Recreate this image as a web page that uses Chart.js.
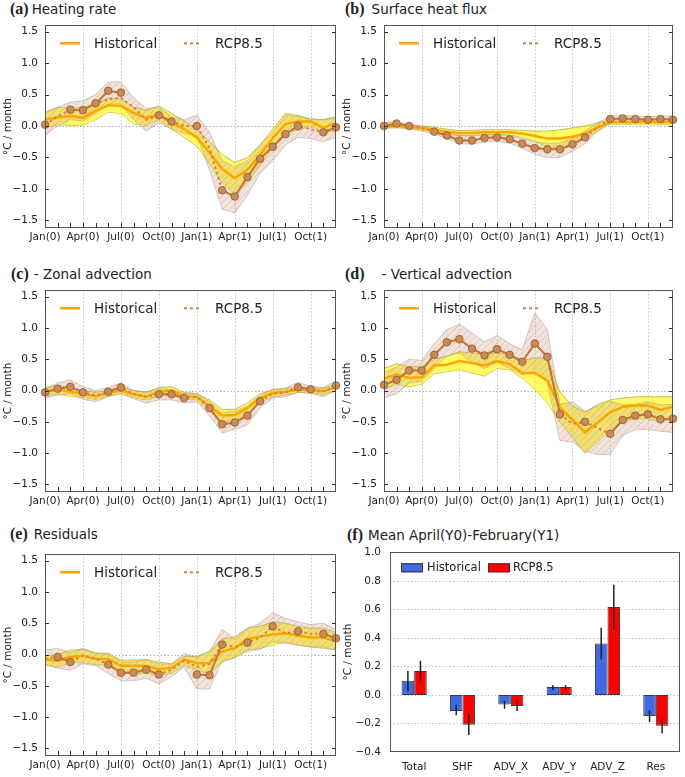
<!DOCTYPE html>
<html>
<head>
<meta charset="utf-8">
<script src="https://cdn.jsdelivr.net/npm/chart.js@4"></script>
<style>
body{margin:0;background:#fff;width:685px;height:777px;position:relative;overflow:hidden;font-family:"DejaVu Sans",sans-serif;color:#222}
canvas{position:absolute}
.tl{position:absolute;font-size:13.5px;line-height:1;white-space:nowrap}
.tl b{font-family:"Liberation Serif",serif;font-size:16px}
</style>
</head>
<body>
<div class="tl" style="left:10px;top:1px"><b>(a)</b><span style="margin-left:3px">Heating rate</span></div>
<div class="tl" style="left:345px;top:1px"><b>(b)</b><span style="margin-left:7px">Surface heat flux</span></div>
<div class="tl" style="left:11px;top:266px"><b>(c)</b><span style="margin-left:5px">- Zonal advection</span></div>
<div class="tl" style="left:345px;top:266px"><b>(d)</b><span style="margin-left:17px">- Vertical advection</span></div>
<div class="tl" style="left:10px;top:526px"><b>(e)</b><span style="margin-left:6px">Residuals</span></div>
<div class="tl" style="left:347px;top:527px"><b>(f)</b><span style="margin-left:5px">Mean April(Y0)-February(Y1)</span></div>

<canvas id="cA"></canvas>
<canvas id="cB"></canvas>
<canvas id="cC"></canvas>
<canvas id="cD"></canvas>
<canvas id="cE"></canvas>
<canvas id="cF"></canvas>

<script>
// --- DATI: mesi e tick ---
const months = ['Jan(0)','Feb(0)','Mar(0)','Apr(0)','May(0)','Jun(0)','Jul(0)','Aug(0)','Sep(0)','Oct(0)','Nov(0)','Dec(0)',
                'Jan(1)','Feb(1)','Mar(1)','Apr(1)','May(1)','Jun(1)','Jul(1)','Aug(1)','Sep(1)','Oct(1)','Nov(1)','Dec(1)'];
const yTicks = [-1.5, -1.0, -0.5, 0.0, 0.5, 1.0, 1.5];

// (a) Heating rate
const heatHist   = [0.10,0.14,0.16,0.13,0.24,0.33,0.32,0.21,0.13,0.18,0.05,-0.05,-0.18,-0.42,-0.68,-0.83,-0.69,-0.46,-0.19,0.03,0.07,0.07,-0.03,0.05];
const heatHistHi = [0.22,0.30,0.28,0.30,0.35,0.45,0.43,0.30,0.25,0.32,0.20,0.08,-0.05,-0.25,-0.45,-0.58,-0.50,-0.30,-0.05,0.20,0.17,0.10,0.10,0.15];
const heatHistLo = [-0.03,0.02,0.01,0.01,0.10,0.22,0.20,0.03,0.01,0.10,-0.05,-0.18,-0.32,-0.60,-0.90,-1.08,-0.90,-0.62,-0.35,-0.08,-0.07,0.00,-0.10,-0.08];
const heatRcp    = [0.02,0.15,0.26,0.25,0.36,0.42,0.45,0.30,0.10,0.17,0.07,0.00,0.00,-0.35,-1.02,-1.12,-0.81,-0.52,-0.33,-0.13,0.00,-0.05,-0.10,-0.02];
const heatRcpHi  = [0.20,0.30,0.38,0.40,0.50,0.70,0.70,0.45,0.28,0.30,0.15,0.10,0.17,-0.10,-0.55,-0.65,-0.55,-0.30,-0.10,0.17,0.15,0.12,0.10,0.12];
const heatRcpLo  = [-0.15,0.00,0.10,0.08,0.20,0.35,0.35,0.10,-0.08,0.05,-0.05,-0.12,-0.15,-0.70,-1.32,-1.38,-1.10,-0.75,-0.55,-0.30,-0.18,-0.20,-0.25,-0.18];
const heatRcpSig = [0.02,null,0.26,0.25,0.36,0.56,0.53,null,null,0.17,0.07,null,0.00,null,-1.02,-1.12,-0.81,-0.52,-0.33,-0.13,0.00,null,-0.10,-0.02];

// (b) Surface heat flux
const fluxHist   = [0.00,0.00,-0.01,-0.03,-0.06,-0.09,-0.11,-0.11,-0.10,-0.10,-0.10,-0.12,-0.16,-0.20,-0.20,-0.17,-0.12,-0.02,0.06,0.06,0.06,0.06,0.06,0.06];
const fluxHistHi = [0.03,0.03,0.02,0.00,-0.02,-0.05,-0.07,-0.07,-0.06,-0.06,-0.06,-0.07,-0.08,-0.08,-0.06,-0.03,0.00,0.05,0.10,0.10,0.10,0.10,0.10,0.10];
const fluxHistLo = [-0.03,-0.03,-0.04,-0.06,-0.09,-0.13,-0.15,-0.15,-0.14,-0.14,-0.14,-0.18,-0.24,-0.33,-0.35,-0.30,-0.20,-0.08,0.03,0.03,0.02,0.02,0.02,0.02];
const fluxRcp    = [0.00,0.04,0.00,-0.03,-0.09,-0.15,-0.23,-0.23,-0.19,-0.18,-0.21,-0.28,-0.35,-0.37,-0.37,-0.29,-0.18,-0.02,0.11,0.12,0.11,0.10,0.11,0.10];
const fluxRcpHi  = [0.05,0.07,0.03,0.00,-0.05,-0.10,-0.15,-0.16,-0.13,-0.13,-0.15,-0.20,-0.25,-0.28,-0.27,-0.20,-0.08,0.05,0.16,0.17,0.16,0.15,0.16,0.16];
const fluxRcpLo  = [-0.04,-0.01,-0.04,-0.08,-0.13,-0.20,-0.28,-0.29,-0.25,-0.25,-0.27,-0.35,-0.45,-0.50,-0.50,-0.40,-0.28,-0.08,0.06,0.07,0.06,0.06,0.06,0.05];
const fluxRcpSig = [0.00,0.04,0.00,null,-0.09,-0.15,-0.23,-0.23,-0.19,-0.18,-0.21,-0.28,-0.35,-0.37,-0.37,-0.29,-0.18,null,0.11,0.12,0.11,0.10,0.11,0.10];

// (c) Zonal advection
const zonHist   = [-0.02,0.02,-0.02,-0.05,-0.09,-0.04,0.00,-0.06,-0.10,-0.02,0.00,-0.09,-0.10,-0.25,-0.40,-0.39,-0.28,-0.12,-0.04,-0.02,0.02,0.00,-0.01,0.05];
const zonHistHi = [0.05,0.08,0.05,0.00,-0.03,0.00,0.06,0.00,-0.03,0.05,0.06,-0.03,-0.05,-0.15,-0.30,-0.30,-0.20,-0.05,0.01,0.03,0.06,0.04,0.04,0.10];
const zonHistLo = [-0.08,-0.06,-0.09,-0.11,-0.14,-0.09,-0.05,-0.11,-0.15,-0.09,-0.07,-0.14,-0.15,-0.33,-0.50,-0.48,-0.37,-0.19,-0.10,-0.07,-0.03,-0.04,-0.06,0.00];
const zonRcp    = [-0.03,0.03,0.06,-0.03,-0.08,-0.02,0.05,-0.05,-0.10,-0.06,-0.06,-0.12,-0.10,-0.28,-0.54,-0.51,-0.40,-0.17,-0.05,-0.03,0.05,0.02,-0.01,0.08];
const zonRcpHi  = [0.03,0.12,0.17,0.06,0.00,0.05,0.12,0.00,-0.02,0.03,0.02,-0.05,-0.05,-0.18,-0.35,-0.33,-0.25,-0.08,0.02,0.04,0.13,0.07,0.05,0.15];
const zonRcpLo  = [-0.12,-0.07,-0.05,-0.14,-0.18,-0.10,-0.05,-0.13,-0.20,-0.15,-0.15,-0.20,-0.18,-0.40,-0.68,-0.62,-0.55,-0.28,-0.12,-0.10,-0.03,-0.04,-0.10,0.00];
const zonRcpSig = [-0.03,0.03,0.06,-0.03,null,-0.02,0.05,null,null,-0.06,-0.06,-0.12,null,-0.28,-0.54,-0.51,-0.40,-0.17,null,null,0.05,0.02,null,0.08];

// (d) Vertical advection
const vertHist   = [0.19,0.26,0.20,0.21,0.40,0.41,0.47,0.44,0.40,0.47,0.42,0.28,0.28,0.16,-0.27,-0.47,-0.67,-0.51,-0.35,-0.26,-0.24,-0.24,-0.31,-0.26];
const vertHistHi = [0.35,0.43,0.38,0.38,0.50,0.55,0.62,0.60,0.58,0.60,0.58,0.48,0.52,0.52,-0.02,-0.25,-0.35,-0.22,-0.15,-0.12,-0.10,-0.10,-0.10,-0.10];
const vertHistLo = [0.02,0.10,0.06,0.10,0.27,0.30,0.33,0.28,0.23,0.35,0.33,0.20,0.02,-0.20,-0.50,-0.75,-1.00,-0.82,-0.62,-0.50,-0.45,-0.45,-0.50,-0.45];
const vertRcp    = [0.09,0.17,0.32,0.32,0.57,0.77,0.82,0.67,0.56,0.66,0.57,0.46,0.75,0.54,-0.38,-0.53,-0.50,-0.60,-0.69,-0.47,-0.40,-0.38,-0.46,-0.45];
const vertRcpHi  = [0.28,0.38,0.50,0.48,0.75,0.97,1.06,0.92,0.78,0.88,0.75,0.65,1.24,0.98,-0.22,-0.18,-0.33,-0.25,-0.17,-0.23,-0.22,-0.18,-0.23,-0.22];
const vertRcpLo  = [-0.12,-0.05,0.12,0.15,0.35,0.55,0.60,0.45,0.35,0.45,0.35,0.25,0.30,0.12,-0.80,-0.82,-0.97,-1.02,-1.02,-0.72,-0.62,-0.62,-0.65,-0.67];
const vertRcpSig = [0.09,0.17,0.32,0.32,0.57,0.77,0.82,0.67,0.56,0.66,0.57,0.46,0.75,0.54,-0.38,null,-0.50,null,-0.69,-0.47,-0.40,-0.38,-0.46,-0.45];

// (e) Residuals
const resHist   = [-0.08,-0.10,-0.04,-0.02,-0.07,-0.07,-0.18,-0.18,-0.18,-0.24,-0.21,-0.08,-0.14,-0.14,0.05,0.10,0.25,0.29,0.32,0.34,0.30,0.27,0.27,0.21];
const resHistHi = [-0.02,0.00,0.07,0.08,0.02,0.02,-0.09,-0.09,-0.08,-0.12,-0.15,-0.03,-0.03,0.05,0.25,0.28,0.42,0.45,0.52,0.50,0.45,0.42,0.42,0.35];
const resHistLo = [-0.17,-0.20,-0.13,-0.13,-0.16,-0.17,-0.30,-0.30,-0.30,-0.33,-0.30,-0.17,-0.25,-0.30,-0.12,-0.05,0.08,0.10,0.15,0.20,0.15,0.12,0.10,0.08];
const resRcp    = [-0.06,-0.04,-0.12,-0.02,-0.06,-0.16,-0.29,-0.29,-0.24,-0.32,-0.24,-0.10,-0.20,-0.15,0.16,0.12,0.19,0.27,0.45,0.34,0.37,0.33,0.33,0.26];
const resRcpHi  = [0.07,0.10,0.03,0.10,0.03,0.00,-0.12,-0.12,-0.08,-0.15,-0.15,0.02,-0.05,0.05,0.40,0.25,0.42,0.50,0.67,0.58,0.52,0.48,0.50,0.40];
const resRcpLo  = [-0.15,-0.22,-0.25,-0.15,-0.18,-0.30,-0.42,-0.42,-0.38,-0.47,-0.35,-0.20,-0.55,-0.55,-0.10,-0.05,0.05,0.08,0.20,0.18,0.15,0.12,0.12,0.07];
const resRcpSig = [null,-0.04,-0.12,null,null,-0.16,-0.29,-0.29,-0.24,-0.32,null,null,-0.32,-0.33,0.16,null,0.19,null,0.45,null,0.37,null,0.33,0.26];

// (f) Media aprile(Y0)-febbraio(Y1)
const barCats   = ['Total','SHF','ADV_X','ADV_Y','ADV_Z','Res'];
const barTicks  = [-0.4,-0.2,0.0,0.2,0.4,0.6,0.8,1.0];
const barHist   = [0.10,-0.113,-0.067,0.055,0.36,-0.147];
const barHistLo = [0.025,-0.143,-0.097,0.034,0.248,-0.189];
const barHistHi = [0.168,-0.067,-0.04,0.069,0.471,-0.108];
const barRcp    = [0.168,-0.209,-0.078,0.055,0.616,-0.216];
const barRcpLo  = [0.10,-0.28,-0.113,0.034,0.455,-0.269];
const barRcpHi  = [0.24,-0.131,-0.04,0.069,0.772,-0.17];

// --- STILI ---
Chart.defaults.font.family = 'DejaVu Sans';
Chart.defaults.color = '#222';
const HIST_COL = '#ffa500';
const RCP_COL = '#d9823f';
const TICK_FONT = {family: 'DejaVu Sans', size: 10.5};

function fmt(v) {
    return (v < -1e-9 ? '\u2212' : '') + Math.abs(v).toFixed(1);
}

function seg(ctx, x1, y1, x2, y2) {
    ctx.beginPath(); ctx.moveTo(x1, y1); ctx.lineTo(x2, y2); ctx.stroke();
}

// tratteggio della banda RCP8.5
function makeHatch() {
    const c = document.createElement('canvas');
    c.width = 7; c.height = 7;
    const g = c.getContext('2d');
    g.fillStyle = 'rgba(212,168,145,0.32)';
    g.fillRect(0, 0, 7, 7);
    g.strokeStyle = 'rgba(165,125,105,0.4)';
    g.lineWidth = 0.7;
    g.beginPath();
    g.moveTo(0, 7); g.lineTo(7, 0);
    g.moveTo(-1, 1); g.lineTo(1, -1);
    g.moveTo(6, 8); g.lineTo(8, 6);
    g.stroke();
    return g.createPattern(c, 'repeat');
}
const hatch = makeHatch();

// --- PLUGIN: griglia, cornice, tacche e legenda dei pannelli a linee ---
const lineDecor = {
    id: 'lineDecor',
    beforeDatasetsDraw(chart) {
        const {ctx, chartArea: a, scales: {x, y}} = chart;
        ctx.save();
        ctx.strokeStyle = '#c4c4c4';
        ctx.lineWidth = 1;
        ctx.setLineDash([1.5, 2]);
        for (let i = 3; i < 24; i += 3) {
            const px = Math.round(x.getPixelForValue(i)) + 0.5;
            seg(ctx, px, a.top, px, a.bottom);
        }
        const py = Math.round(y.getPixelForValue(0)) + 0.5;
        ctx.strokeStyle = '#b0b0b0';
        seg(ctx, a.left, py, a.right, py);
        ctx.restore();
    },
    afterDatasetsDraw(chart) {
        const {ctx, chartArea: a, scales: {x, y}} = chart;
        ctx.save();
        ctx.strokeStyle = '#555';
        ctx.lineWidth = 1;
        ctx.strokeRect(Math.round(a.left) + 0.5, Math.round(a.top) + 0.5, Math.round(a.right - a.left) - 1, Math.round(a.bottom - a.top) - 1);
        ctx.strokeStyle = '#333';
        for (let i = 1; i < 23; i++) {
            const px = Math.round(x.getPixelForValue(i)) + 0.5;
            seg(ctx, px, a.bottom, px, a.bottom - 5);
        }
        yTicks.forEach(v => {
            const py = Math.round(y.getPixelForValue(v)) + 0.5;
            seg(ctx, a.left, py, a.left + 4, py);
            seg(ctx, a.right, py, a.right - 4, py);
        });
        // legenda
        const ly = a.top + 18;
        ctx.lineWidth = 2.5;
        ctx.strokeStyle = HIST_COL;
        seg(ctx, a.left + 15, ly, a.left + 35, ly);
        ctx.lineWidth = 2;
        ctx.strokeStyle = RCP_COL;
        ctx.setLineDash([3, 3]);
        seg(ctx, a.left + 139, ly, a.left + 157, ly);
        ctx.setLineDash([]);
        ctx.fillStyle = '#222';
        ctx.font = '13.5px "DejaVu Sans"';
        ctx.textBaseline = 'middle';
        ctx.fillText('Historical', a.left + 49, ly + 1);
        ctx.fillText('RCP8.5', a.left + 170, ly + 1);
        ctx.restore();
    }
};

// --- COSTRUZIONE PANNELLO A LINEE ---
function linePanel(id, area, hist, histLo, histHi, rcp, rcpLo, rcpHi, rcpSig) {
    const cv = document.getElementById(id);
    const padTop = 12, padRight = 8, yW = 45, xH = 26;
    cv.style.left = (area.L - yW) + 'px';
    cv.style.top = (area.T - padTop) + 'px';
    cv.width = area.R - area.L + yW + padRight;
    cv.height = area.B - area.T + padTop + xH;

    return new Chart(cv, {
        type: 'line',
        data: {
            labels: months,
            datasets: [
                {data: histHi, borderColor: 'rgba(140,140,40,0.7)', borderWidth: 0.8, backgroundColor: 'rgba(255,248,0,0.62)', fill: '+1', pointRadius: 0, order: 5},
                {data: histLo, borderColor: 'rgba(140,140,40,0.7)', borderWidth: 0.8, fill: false, pointRadius: 0, order: 5},
                {data: rcpHi, borderColor: 'rgba(175,145,130,0.6)', borderWidth: 0.8, backgroundColor: hatch, fill: '+1', pointRadius: 0, order: 4},
                {data: rcpLo, borderColor: 'rgba(175,145,130,0.6)', borderWidth: 0.8, fill: false, pointRadius: 0, order: 4},
                {data: hist, borderColor: HIST_COL, borderWidth: 2.5, fill: false, pointRadius: 0, order: 3},
                {data: rcp, borderColor: RCP_COL, borderWidth: 2, borderDash: [2.5, 3], fill: false, pointRadius: 0, order: 2},
                {data: rcpSig, borderColor: '#c4773a', borderWidth: 2, fill: false, spanGaps: false,
                 pointRadius: 3.8, pointBackgroundColor: '#c98a55', pointBorderColor: '#95572c', pointBorderWidth: 0.8, order: 1}
            ]
        },
        options: {
            responsive: false,
            animation: false,
            events: [],
            layout: {padding: {top: padTop, right: padRight, left: 0, bottom: 0}},
            elements: {line: {tension: 0}},
            plugins: {legend: {display: false}, tooltip: {enabled: false}},
            scales: {
                x: {
                    grid: {display: false, drawTicks: false},
                    border: {display: false},
                    ticks: {autoSkip: false, maxRotation: 0, minRotation: 0, padding: 3, font: TICK_FONT,
                            callback: (v, i) => (i % 3 === 0 ? months[i] : '')},
                    afterFit: s => { s.height = xH; }
                },
                y: {
                    min: -1.62, max: 1.6,
                    grid: {display: false, drawTicks: false},
                    border: {display: false},
                    afterBuildTicks: s => { s.ticks = yTicks.map(v => ({value: v})); },
                    ticks: {padding: 7, font: TICK_FONT, callback: v => fmt(v)},
                    title: {display: true, text: '\u00b0C / month', font: {family: 'DejaVu Sans', size: 10.5}, padding: {top: 2, bottom: 0}},
                    afterFit: s => { s.width = yW; }
                }
            }
        },
        plugins: [lineDecor]
    });
}

linePanel('cA', {L: 45, T: 24, R: 336, B: 228}, heatHist, heatHistLo, heatHistHi, heatRcp, heatRcpLo, heatRcpHi, heatRcpSig);
linePanel('cB', {L: 384, T: 24, R: 673, B: 228}, fluxHist, fluxHistLo, fluxHistHi, fluxRcp, fluxRcpLo, fluxRcpHi, fluxRcpSig);
linePanel('cC', {L: 45, T: 289, R: 336, B: 492}, zonHist, zonHistLo, zonHistHi, zonRcp, zonRcpLo, zonRcpHi, zonRcpSig);
linePanel('cD', {L: 384, T: 289, R: 673, B: 492}, vertHist, vertHistLo, vertHistHi, vertRcp, vertRcpLo, vertRcpHi, vertRcpSig);
linePanel('cE', {L: 45, T: 553, R: 336, B: 756}, resHist, resHistLo, resHistHi, resRcp, resRcpLo, resRcpHi, resRcpSig);

// --- PANNELLO (f): BARRE CON BARRE D'ERRORE ---
const barDecor = {
    id: 'barDecor',
    beforeDatasetsDraw(chart) {
        const {ctx, chartArea: a, scales: {y}} = chart;
        ctx.save();
        ctx.strokeStyle = '#c4c4c4';
        ctx.lineWidth = 1;
        ctx.setLineDash([1.5, 2]);
        barTicks.slice(1, -1).forEach(v => {
            const py = Math.round(y.getPixelForValue(v)) + 0.5;
            seg(ctx, a.left, py, a.right, py);
        });
        ctx.restore();
    },
    afterDatasetsDraw(chart) {
        const {ctx, chartArea: a, scales: {y}} = chart;
        const errs = [[barHistLo, barHistHi], [barRcpLo, barRcpHi]];
        ctx.save();
        ctx.strokeStyle = '#222';
        ctx.lineWidth = 1.5;
        errs.forEach((e, d) => {
            chart.getDatasetMeta(d).data.forEach((bar, i) => {
                seg(ctx, bar.x, y.getPixelForValue(e[0][i]), bar.x, y.getPixelForValue(e[1][i]));
            });
        });
        ctx.strokeStyle = '#555';
        ctx.lineWidth = 1;
        ctx.strokeRect(Math.round(a.left) + 0.5, Math.round(a.top) + 0.5, Math.round(a.right - a.left) - 1, Math.round(a.bottom - a.top) - 1);
        // legenda
        ctx.lineWidth = 1;
        ctx.strokeStyle = '#333';
        ctx.fillStyle = '#4169e1';
        ctx.fillRect(a.left + 11, a.top + 11, 22, 9);
        ctx.strokeRect(a.left + 11.5, a.top + 11.5, 21, 8);
        ctx.fillStyle = '#ff0000';
        ctx.fillRect(a.left + 98, a.top + 11, 22, 9);
        ctx.strokeRect(a.left + 98.5, a.top + 11.5, 21, 8);
        ctx.fillStyle = '#222';
        ctx.font = '11.5px "DejaVu Sans"';
        ctx.textBaseline = 'middle';
        ctx.fillText('Historical', a.left + 37, a.top + 16);
        ctx.fillText('RCP8.5', a.left + 123, a.top + 16);
        ctx.restore();
    }
};

const cvF = document.getElementById('cF');
const fArea = {L: 390, T: 549, R: 680, B: 752};
cvF.style.left = (fArea.L - 50) + 'px';
cvF.style.top = (fArea.T - 12) + 'px';
cvF.width = fArea.R - fArea.L + 50 + 5;
cvF.height = fArea.B - fArea.T + 12 + 25;

new Chart(cvF, {
    type: 'bar',
    data: {
        labels: barCats,
        datasets: [
            {data: barHist, backgroundColor: '#4169e1', borderColor: '#3a3a3a', borderWidth: 1, borderSkipped: false, barPercentage: 1, categoryPercentage: 0.52},
            {data: barRcp, backgroundColor: '#ff0000', borderColor: '#3a3a3a', borderWidth: 1, borderSkipped: false, barPercentage: 1, categoryPercentage: 0.52}
        ]
    },
    options: {
        responsive: false,
        animation: false,
        events: [],
        layout: {padding: {top: 12, right: 5, left: 0, bottom: 0}},
        plugins: {legend: {display: false}, tooltip: {enabled: false}},
        scales: {
            x: {
                grid: {display: false, drawTicks: false},
                border: {display: false},
                ticks: {padding: 9, font: TICK_FONT, maxRotation: 0},
                afterFit: s => { s.height = 25; }
            },
            y: {
                min: -0.4, max: 1.0,
                grid: {display: false, drawTicks: false},
                border: {display: false},
                afterBuildTicks: s => { s.ticks = barTicks.map(v => ({value: v})); },
                ticks: {padding: 9, font: TICK_FONT, callback: v => fmt(v)},
                title: {display: true, text: '\u00b0C / month', font: {family: 'DejaVu Sans', size: 10.5}, padding: {top: 2, bottom: 0}},
                afterFit: s => { s.width = 50; }
            }
        }
    },
    plugins: [barDecor]
});
</script>
</body>
</html>
